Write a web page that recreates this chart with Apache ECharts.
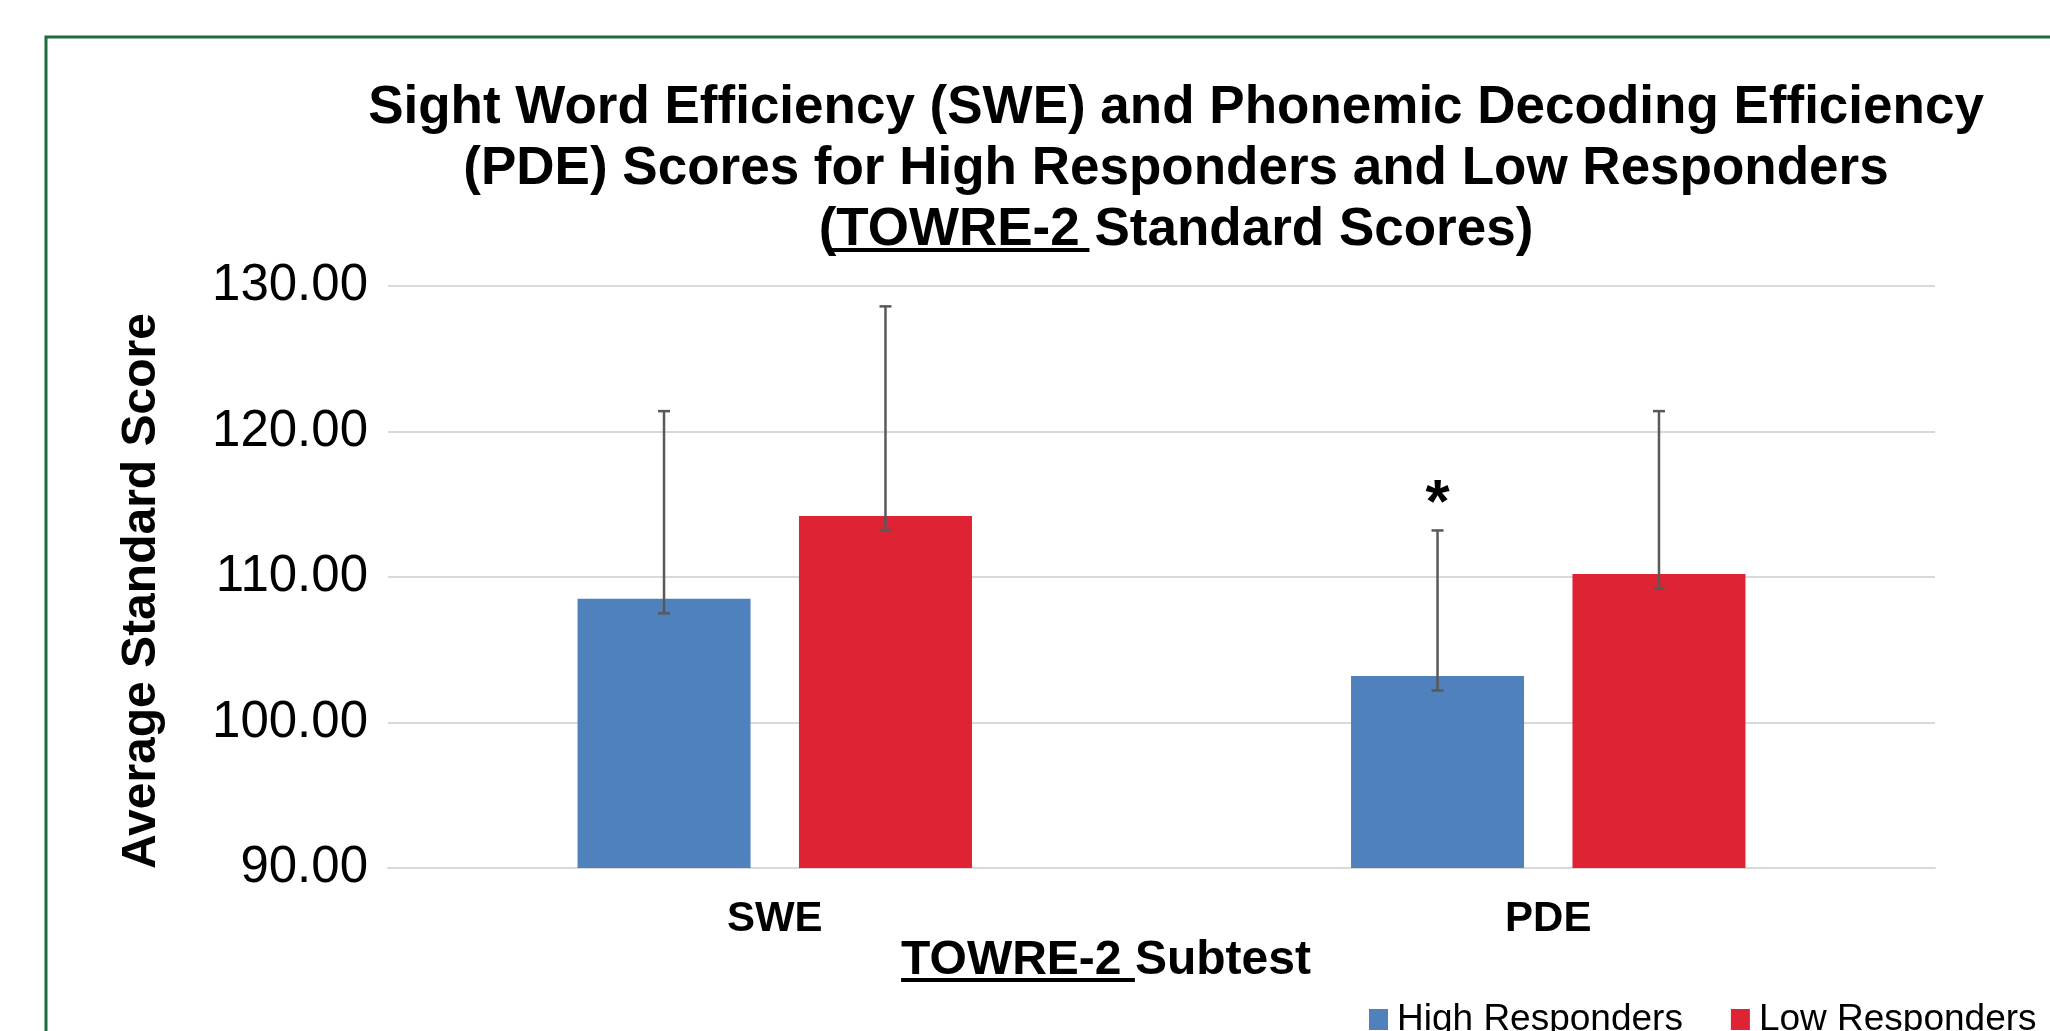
<!DOCTYPE html>
<html>
<head>
<meta charset="utf-8">
<title>TOWRE-2 Standard Scores</title>
<script src="https://cdn.jsdelivr.net/npm/echarts@6/dist/echarts.min.js"></script>
<style>
  html, body { margin: 0; padding: 0; background: #fff; }
  #chart { width: 2050px; height: 1031px; }
</style>
</head>
<body>
<div id="chart"></div>
<script>
// 数据
const categories = ['SWE', 'PDE'];
const seriesNames = ['High Responders', 'Low Responders'];
const highMeans = [108.5, 103.2];
const lowMeans = [114.2, 110.2];
// 误差线上下端 (图中读出)
const highErrTop = [121.4, 113.2];
const highErrBottom = [107.5, 102.2];
const lowErrTop = [128.6, 121.4];
const lowErrBottom = [113.2, 109.2];
// 显著性标记
const highSig = ['', '*'];
const yTicks = [90, 100, 110, 120, 130];

const FONT = '"Liberation Sans", Arial, sans-serif';
const BAR_W = 173;
const BAR_GAP = 0.28;
const BLUE = '#4F81BD';
const RED = '#DE2334';

const chart = echarts.init(document.getElementById('chart'));

// 测量文字宽度, 用来画下划线
const ctx = document.createElement('canvas').getContext('2d');
function textWidth(str, font) {
  ctx.font = font;
  return ctx.measureText(str).width;
}

const titleFont = 'bold 53px ' + FONT;
const titleCx = 1171;
const titleLine3 = '(TOWRE-2 Standard Scores)';
const line3Start = titleCx - textWidth(titleLine3, titleFont) / 2;
const ulTitleX = line3Start + textWidth('(', titleFont);
const ulTitleW = textWidth('TOWRE-2 ', titleFont);

const xNameFont = 'bold 48px ' + FONT;
const xNameCx = 1106;
const xName = 'TOWRE-2 Subtest';
const xNameStart = xNameCx - textWidth(xName, xNameFont) / 2;
const ulXW = textWidth('TOWRE-2 ', xNameFont);

function errorData(top, bottom) {
  return categories.map((c, i) => [i, bottom[i], top[i]]);
}

// 误差线
function errorRenderer(side, sigs) {
  const off = side * (BAR_W + BAR_W * BAR_GAP) / 2;
  return function (params, api) {
    const i = api.value(0);
    const lo = api.coord([i, api.value(1)]);
    const hi = api.coord([i, api.value(2)]);
    const x = lo[0] + off;
    const cap = 6;
    const style = { stroke: '#595959', lineWidth: 2.5 };
    const children = [
      { type: 'line', shape: { x1: x, y1: hi[1], x2: x, y2: lo[1] }, style: style },
      { type: 'line', shape: { x1: x - cap, y1: hi[1], x2: x + cap, y2: hi[1] }, style: style },
      { type: 'line', shape: { x1: x - cap, y1: lo[1], x2: x + cap, y2: lo[1] }, style: style }
    ];
    if (sigs && sigs[i]) {
      children.push({
        type: 'text',
        style: {
          x: x, y: hi[1] - 26, text: sigs[i], align: 'center', verticalAlign: 'middle',
          font: 'bold 62px ' + FONT, fill: '#000'
        }
      });
    }
    return { type: 'group', children: children };
  };
}

const option = {
  animation: false,
  backgroundColor: '#fff',
  textStyle: { fontFamily: FONT },
  title: {
    text: 'Sight Word Efficiency (SWE) and Phonemic Decoding Efficiency\n(PDE) Scores for High Responders and Low Responders\n' + titleLine3,
    left: titleCx,
    top: 73,
    textAlign: 'center',
    textStyle: { fontFamily: FONT, fontSize: 53, fontWeight: 'bold', color: '#000', lineHeight: 61 }
  },
  legend: {
    data: seriesNames,
    left: 1364,
    top: 996,
    icon: 'rect',
    itemWidth: 19,
    itemHeight: 21,
    itemGap: 48,
    textStyle: { fontFamily: FONT, fontSize: 37, color: '#000', padding: [0, 0, 0, 4] }
  },
  grid: { left: 388, right: 115, top: 286, bottom: 163 },
  xAxis: {
    type: 'category',
    data: categories,
    axisLine: { show: true, lineStyle: { color: '#D9D9D9', width: 2 } },
    axisTick: { show: false },
    axisLabel: { fontFamily: FONT, fontSize: 42, fontWeight: 'bold', color: '#000', margin: 30 }
  },
  yAxis: {
    type: 'value',
    min: yTicks[0],
    max: yTicks[yTicks.length - 1],
    interval: 10,
    name: 'Average Standard Score',
    nameLocation: 'middle',
    nameGap: 222,
    nameTextStyle: { fontFamily: FONT, fontSize: 48, fontWeight: 'bold', color: '#000', padding: [0, 28, 0, 0] },
    axisLine: { show: false },
    axisTick: { show: false },
    axisLabel: { fontFamily: FONT, fontSize: 51, color: '#000', margin: 20, formatter: v => v.toFixed(2) },
    splitLine: { lineStyle: { color: '#D9D9D9', width: 2 } }
  },
  series: [
    { name: seriesNames[0], type: 'bar', data: highMeans, barWidth: BAR_W, barGap: BAR_GAP * 100 + '%', itemStyle: { color: BLUE } },
    { name: seriesNames[1], type: 'bar', data: lowMeans, barWidth: BAR_W, itemStyle: { color: RED } },
    { type: 'custom', data: errorData(highErrTop, highErrBottom), encode: { x: 0, y: [1, 2] }, renderItem: errorRenderer(-1, highSig), z: 5 },
    { type: 'custom', data: errorData(lowErrTop, lowErrBottom), encode: { x: 0, y: [1, 2] }, renderItem: errorRenderer(1, null), z: 5 }
  ],
  graphic: [
    // 外框
    { type: 'rect', shape: { x: 46, y: 37, width: 2100, height: 1100 }, style: { fill: null, stroke: '#1E6B3C', lineWidth: 3 }, silent: true },
    // 标题下划线
    { type: 'rect', shape: { x: ulTitleX, y: 248, width: ulTitleW, height: 4 }, style: { fill: '#000' } },
    // x 轴标题
    { type: 'text', style: { x: xNameStart, y: 961, text: xName, font: xNameFont, fill: '#000', verticalAlign: 'middle' } },
    { type: 'rect', shape: { x: xNameStart, y: 978, width: ulXW, height: 4 }, style: { fill: '#000' } }
  ]
};

chart.setOption(option);
window.addEventListener('resize', () => chart.resize());
</script>
</body>
</html>
